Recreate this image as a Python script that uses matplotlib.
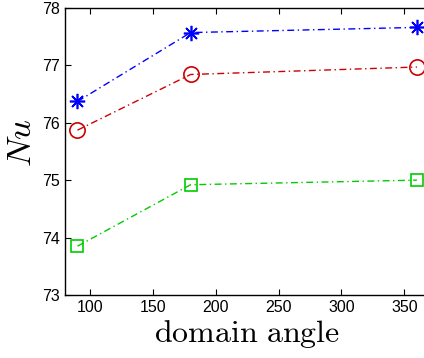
import numpy as np
import matplotlib
matplotlib.use('Agg')
import matplotlib.pyplot as plt

plt.rcParams['mathtext.fontset'] = 'cm'
plt.rcParams['font.family'] = ['Liberation Sans', 'DejaVu Sans']

angle = [90, 180, 360]
nu_star = [76.37, 77.57, 77.66]
nu_circle = [75.87, 76.84, 76.97]
nu_square = [73.85, 74.92, 75.00]

fig = plt.figure(figsize=(4.24, 3.58), dpi=100)
ax = fig.add_axes([0.153, 0.176, 0.86, 0.802])

dashdot = (0, (5, 2.5, 1, 2.5))
ax.plot(angle, nu_star, color=(0, 0, 1), marker=(8, 2, 0), markersize=11,
        markeredgewidth=1.2, linewidth=1.0, linestyle=dashdot)
ax.plot(angle, nu_circle, color=(0.8, 0, 0), marker='o', markersize=11,
        markerfacecolor='none', markeredgewidth=1.2, linewidth=1.0,
        linestyle=dashdot)
ax.plot(angle, nu_square, color=(0, 0.8, 0), marker='s', markersize=8,
        markerfacecolor='none', markeredgewidth=1.2, linewidth=1.0,
        linestyle=dashdot)

ax.set_xlim(80, 370)
ax.set_ylim(73, 78)
ax.set_xticks([100, 150, 200, 250, 300, 350])
ax.set_yticks([73, 74, 75, 76, 77, 78])
ax.tick_params(direction='in', top=True, right=True, labelsize=11.5, length=4)
for s in ax.spines.values():
    s.set_linewidth(1.0)

ax.set_xlabel(r'$\mathrm{domain\ angle}$', fontsize=23, labelpad=2)
ax.set_ylabel(r'$Nu$', fontsize=25)
ax.yaxis.set_label_coords(-0.075, 0.53)

fig.savefig('out.png', dpi=100)
